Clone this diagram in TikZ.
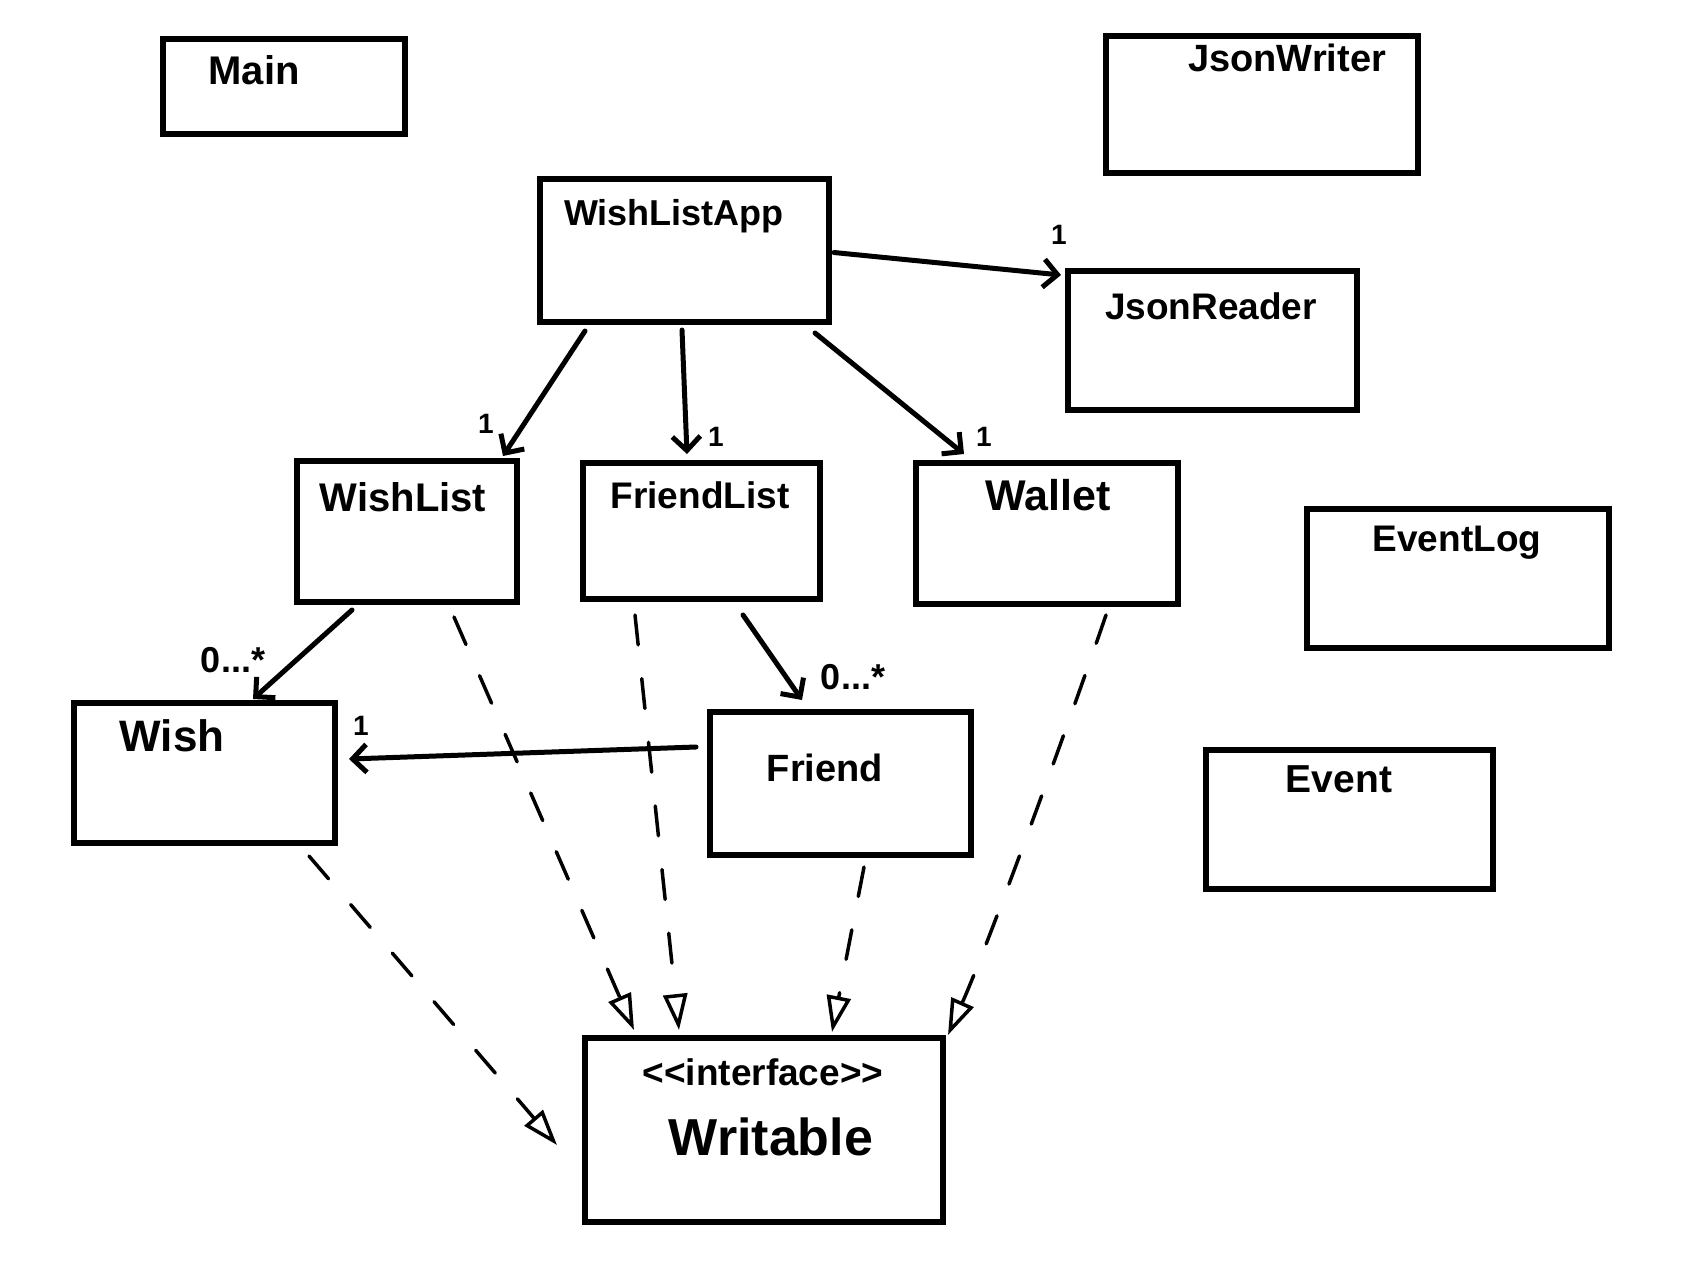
\documentclass[tikz,border=0pt]{standalone}
\usepackage{fontspec}
\setmainfont{Liberation Sans}
\usetikzlibrary{arrows.meta,calc}
\begin{document}
\begin{tikzpicture}[x=1pt,y=-1pt,
  box/.style={draw, line width=6pt, inner sep=0pt, rectangle},
  lbl/.style={inner sep=0pt, font=\fontsize{#1}{#1}\selectfont\bfseries},
  arr/.style={line width=5pt, line cap=round, -{Straight Barb[length=14pt,width=28pt]}},
  realize/.style={line width=3.5pt, line cap=round, dash pattern=on 30pt off 34pt,
     -{Triangle[open, length=36pt, width=24pt, line width=3.5pt]}},
  mult/.style={inner sep=0pt, font=\fontsize{28}{28}\selectfont\bfseries},
  mmany/.style={inner sep=0pt, font=\fontsize{36}{36}\selectfont\bfseries}]
\useasboundingbox[fill=white] (0,0) rectangle (1683,1278);

% boxes
\node[box, minimum width=242pt, minimum height=95pt]  (main) at (284,86.5) {};
\node[box, minimum width=312pt, minimum height=137pt] (jw)   at (1262,104.5) {};
\node[box, minimum width=289pt, minimum height=143pt] (wla)  at (684.5,250.5) {};
\node[box, minimum width=289pt, minimum height=139pt] (jr)   at (1212.5,340.5) {};
\node[box, minimum width=220pt, minimum height=141pt] (wl)   at (407,531.5) {};
\node[box, minimum width=237pt, minimum height=136pt] (fl)   at (701.5,531) {};
\node[box, minimum width=262pt, minimum height=141pt] (wa)   at (1047,533.5) {};
\node[box, minimum width=302pt, minimum height=139pt] (el)   at (1458,578.5) {};
\node[box, minimum width=261pt, minimum height=140pt] (wi)   at (204.5,773) {};
\node[box, minimum width=261pt, minimum height=143pt] (fr)   at (840.5,783.5) {};
\node[box, minimum width=287pt, minimum height=139pt] (ev)   at (1349.5,819.5) {};
\node[box, minimum width=358pt, minimum height=184pt] (wr)   at (764,1130) {};

% titles
\node[lbl=40] (main-t) at (254,70) {Main};
\node[lbl=38] (jw-t) at (1287,58) {JsonWriter};
\node[lbl=36] (wla-t) at (674,216) {WishListApp};
\node[lbl=37] (jr-t) at (1211,306) {JsonReader};
\node[lbl=40] (wl-t) at (403,497) {WishList};
\node[lbl=37] (fl-t) at (700,495) {FriendList};
\node[lbl=43] (wa-t) at (1048,495) {Wallet};
\node[lbl=37] (el-t) at (1457,543) {EventLog};
\node[lbl=44] (wi-t) at (172,736) {Wish};
\node[lbl=38] (fr-t) at (825,768) {Friend};
\node[lbl=39] (ev-t) at (1339,779) {Event};
\node[lbl=37] (wr-s) at (763,1072) {<{}<interface>{}>};
\node[lbl=52] (wr-t) at (771,1137) {Writable};

% associations
\draw[arr] ($(wla.east)+(2,2)$) -- ($(jr.north west)+(-4,7)$);
\draw[arr] ($(wla.south west)+(48,6)$) -- ($(wl.north east)+(-17,-2)$);
\draw[arr] ($(wla.south)+(-2.5,5)$) -- ($(fl.north)+(-14.5,-6)$);
\draw[arr] ($(wla.south east)+(-17,8)$) -- ($(wa.north west)+(51,-6)$);
\draw[arr] ($(wl.south west)+(58,5)$) -- ($(wi.north west)+(182,-1)$);
\draw[arr] ($(fl.south west)+(163,13)$) -- ($(fr.north west)+(95,-9)$);
\draw[arr] ($(fr.north west)+(-11,38)$) -- ($(wi.north east)+(11,59)$);

% multiplicities
\node[mult] (m1) at (1059,235) {1};
\node[mult] (m2) at (486,424) {1};
\node[mult] (m3) at (716,437) {1};
\node[mult] (m4) at (984,437) {1};
\node[mult] (m5) at (361,726) {1};
\node[mmany] (m6) at (233,660) {0...*};
\node[mmany] (m7) at (853,677) {0...*};

% realizations
\draw[realize] ($(wi.south west)+(238,10)$) -- ($(wr.north west)+(-25,110)$);
\draw[realize] ($(wl.south west)+(160,12)$) -- ($(wr.north west)+(52,-5)$);
\draw[realize] ($(fl.south west)+(55,13)$) -- ($(wr.north west)+(97,-5)$);
\draw[realize] ($(fr.south west)+(157,9)$) -- ($(wr.north west)+(250,-3)$);
\draw[realize] ($(wa.south east)+(-75,8)$) .. controls (1070,720) and (990,940) .. ($(wr.north east)+(2,0)$);
\end{tikzpicture}
\end{document}
